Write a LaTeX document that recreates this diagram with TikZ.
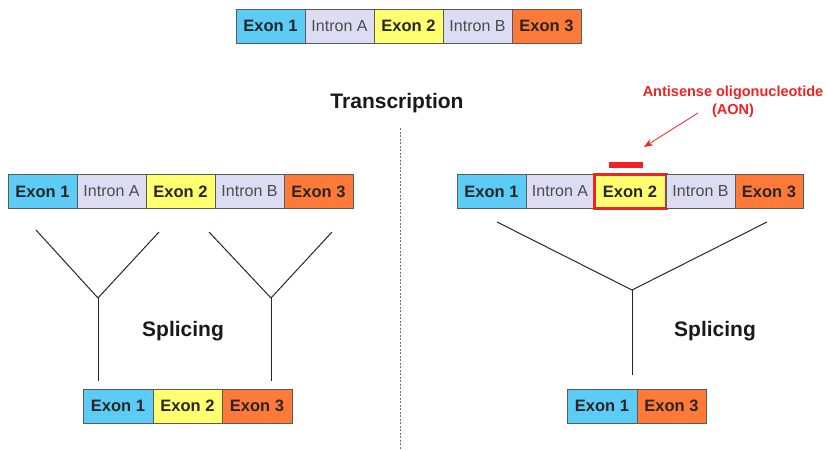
\documentclass[tikz,border=0pt]{standalone}
\usepackage{fontspec}
\setmainfont{Liberation Sans}
\usetikzlibrary{arrows.meta}
\definecolor{exa}{HTML}{5CCBF5}
\definecolor{intr}{HTML}{DCDCF2}
\definecolor{exb}{HTML}{FFFF70}
\definecolor{exc}{HTML}{FF7A38}
\definecolor{bord}{HTML}{5A5A5A}
\definecolor{aon}{HTML}{F02222}
\begin{document}
\begin{tikzpicture}[x=1pt,y=-1pt,
  seg/.style={draw=bord, line width=0.8pt, minimum height=34pt, inner sep=0pt, outer sep=0pt, anchor=west, minimum width=69pt, font=\fontsize{16}{16}\selectfont},
  ex1/.style={seg, fill=exa, font=\fontsize{16.5}{16}\selectfont\bfseries, text=black!85},
  ex2/.style={seg, fill=exb, font=\fontsize{16.5}{16}\selectfont\bfseries, text=black!85},
  ex3/.style={seg, fill=exc, font=\fontsize{16.5}{16}\selectfont\bfseries, text=black!85},
  intb/.style={seg, fill=intr, text=black!70},
  yline/.style={line width=1pt, black!85},
  big/.style={font=\fontsize{21}{22}\selectfont\bfseries, text=black!90}
]
\useasboundingbox (0,0) rectangle (829,450);
% top strip
\node[ex1] (t1) at (236,26) {Exon 1};
\node[intb] (t2) at (t1.east) {Intron A};
\node[ex2] (t3) at (t2.east) {Exon 2};
\node[intb] (t4) at (t3.east) {Intron B};
\node[ex3] (t5) at (t4.east) {Exon 3};
\node[big] (tr) at (397,103) {Transcription};
% divider
\coordinate (dv1) at (400,128);
\coordinate (dv2) at (400,450);
\draw[black!55, line width=1pt, dash pattern=on 2pt off 1.5pt] (dv1) -- (dv2);
% left strip
\node[ex1] (l1) at (8,191.5) {Exon 1};
\node[intb] (l2) at (l1.east) {Intron A};
\node[ex2] (l3) at (l2.east) {Exon 2};
\node[intb] (l4) at (l3.east) {Intron B};
\node[ex3] (l5) at (l4.east) {Exon 3};
% left Ys
\coordinate (ya1) at (36,230);
\coordinate (ya2) at (159,232);
\coordinate (yj1) at (98,298);
\coordinate (ys1) at (98,381);
\coordinate (yb1) at (209,232);
\coordinate (yb2) at (332,232);
\coordinate (yj2) at (271,298);
\coordinate (ys2) at (271,381);
\node[big] (spl) at (183,331) {Splicing};
% bottom left strip
\node[ex1, minimum width=70pt] (b1) at (83,406) {Exon 1};
\node[ex2, minimum width=69pt] (b2) at (b1.east) {Exon 2};
\node[ex3, minimum width=70pt] (b3) at (b2.east) {Exon 3};
\draw[yline] (ya1) -- (yj1) -- (ya2);
\draw[yline] (yj1) -- (ys1);
\draw[yline] (yb1) -- (yj2) -- (yb2);
\draw[yline] (yj2) -- (ys2);
% right strip
\node[ex1] (r1) at (457,191.5) {Exon 1};
\node[intb, minimum width=68pt] (r2) at (r1.east) {Intron A};
\node[ex2, minimum width=72pt, draw=aon, line width=3pt] (r3) at (r2.east) {Exon 2};
\node[intb] (r4) at (r3.east) {Intron B};
\node[ex3, minimum width=68pt] (r5) at (r4.east) {Exon 3};
% AON
\node[fill=aon, minimum width=34pt, minimum height=6pt, inner sep=0pt] (bar) at (626,165) {};
\node[text=aon, font=\fontsize{14.5}{18}\selectfont\bfseries, align=center] (aonl) at (733,102) {Antisense oligonucleotide\\(AON)};
\coordinate (ar1) at (698,113);
\coordinate (ar2) at (644,147);
\draw[aon, line width=0.8pt, -{Stealth[length=9pt,width=7pt]}] (ar1) -- (ar2);
% right Y
\coordinate (yc1) at (497,222);
\coordinate (yc2) at (767,222);
\coordinate (yj3) at (632,290);
\coordinate (ys3) at (632,375);
\node[big] (spr) at (715,331) {Splicing};
\node[ex1, minimum width=70pt] (c1) at (567,406) {Exon 1};
\node[ex3, minimum width=69pt] (c2) at (c1.east) {Exon 3};
\draw[yline] (yc1) -- (yj3) -- (yc2);
\draw[yline] (yj3) -- (ys3);
\end{tikzpicture}
\end{document}
